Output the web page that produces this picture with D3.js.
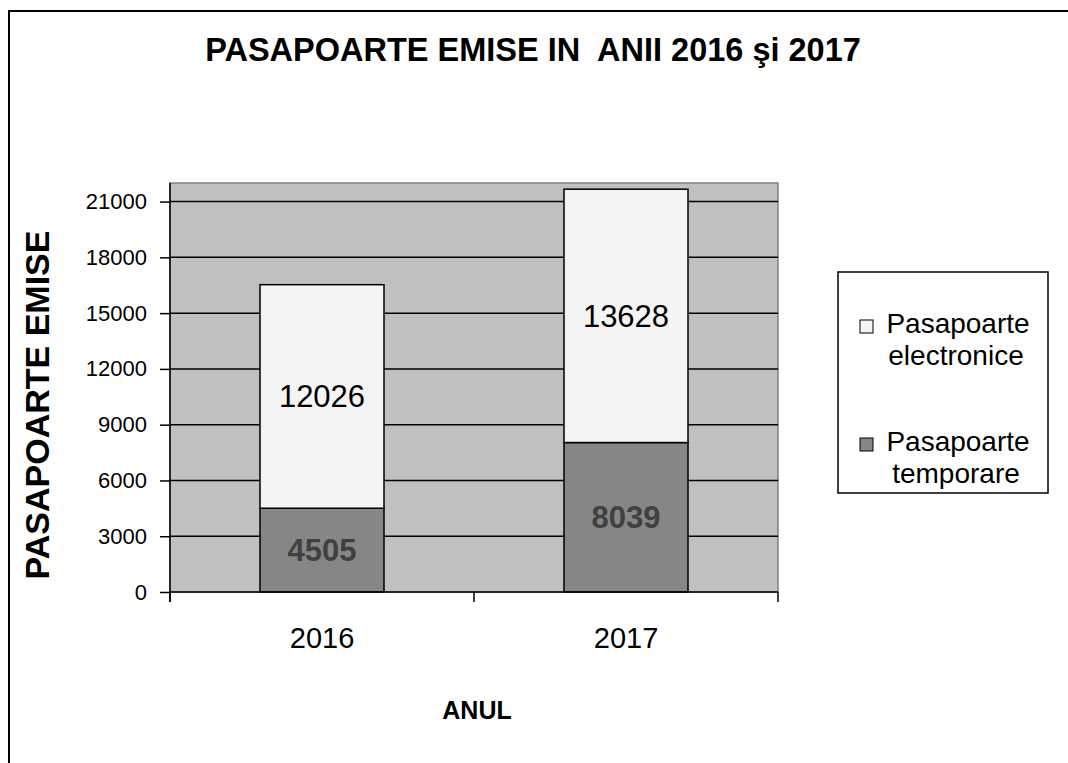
<!DOCTYPE html>
<html>
<head>
<meta charset="utf-8">
<script src="https://cdn.jsdelivr.net/npm/d3@7"></script>
<style>
  body { margin: 0; background: #fff; }
  svg { display: block; font-family: "Liberation Sans", Arial, sans-serif; }
</style>
</head>
<body>
<svg id="chart" width="1068" height="763"></svg>
<script>
const years = ["2016", "2017"];
const temporare = [4505, 8039];
const electronice = [12026, 13628];
const yTicks = [0, 3000, 6000, 9000, 12000, 15000, 18000, 21000];
const seriesNames = ["Pasapoarte electronice", "Pasapoarte temporare"];

const svg = d3.select("#chart");
const FONT = "Liberation Sans, Arial, sans-serif";

// outer chart frame (runs off right and bottom edge)
svg.append("rect")
  .attr("x", 9).attr("y", 11)
  .attr("width", 1100).attr("height", 800)
  .attr("fill", "none").attr("stroke", "#000").attr("stroke-width", 2);

const plot = { left: 170, top: 183, right: 778, bottom: 592 };

const x = d3.scaleBand().domain(years).range([plot.left, plot.right]);
const y = d3.scaleLinear().domain([0, 22000]).range([plot.bottom, plot.top]);
const barW = 124;

// plot background
svg.append("rect")
  .attr("x", plot.left).attr("y", plot.top)
  .attr("width", plot.right - plot.left).attr("height", plot.bottom - plot.top)
  .attr("fill", "#c0c0c0").attr("stroke", "#808080").attr("stroke-width", 1.5);

// gridlines
svg.append("g").selectAll("line")
  .data(yTicks.filter(d => d > 0))
  .join("line")
  .attr("x1", plot.left).attr("x2", plot.right)
  .attr("y1", d => y(d)).attr("y2", d => y(d))
  .attr("stroke", "#000").attr("stroke-width", 1.5);

const data = years.map((yr, i) => ({ year: yr, temp: temporare[i], elec: electronice[i] }));

const bars = svg.append("g");
bars.selectAll("rect.temp")
  .data(data).join("rect").attr("class", "temp")
  .attr("x", d => x(d.year) + x.bandwidth() / 2 - barW / 2)
  .attr("width", barW)
  .attr("y", d => y(d.temp))
  .attr("height", d => y(0) - y(d.temp))
  .attr("fill", "#868686").attr("stroke", "#000").attr("stroke-width", 1.5);

bars.selectAll("rect.elec")
  .data(data).join("rect").attr("class", "elec")
  .attr("x", d => x(d.year) + x.bandwidth() / 2 - barW / 2)
  .attr("width", barW)
  .attr("y", d => y(d.temp + d.elec))
  .attr("height", d => y(d.temp) - y(d.temp + d.elec))
  .attr("fill", "#f4f4f4").attr("stroke", "#000").attr("stroke-width", 1.5);

// value labels
bars.selectAll("text.elec")
  .data(data).join("text").attr("class", "elec")
  .attr("x", d => x(d.year) + x.bandwidth() / 2)
  .attr("y", d => y(d.temp + d.elec / 2))
  .attr("dy", "0.35em")
  .attr("text-anchor", "middle")
  .attr("font-size", 31)
  .attr("fill", "#000")
  .text(d => d.elec);

bars.selectAll("text.temp")
  .data(data).join("text").attr("class", "temp")
  .attr("x", d => x(d.year) + x.bandwidth() / 2)
  .attr("y", d => y(d.temp / 2))
  .attr("dy", "0.35em")
  .attr("text-anchor", "middle")
  .attr("font-size", 31)
  .attr("font-weight", "bold")
  .attr("fill", "#404040")
  .text(d => d.temp);

// y axis
const yAxis = svg.append("g")
  .attr("transform", `translate(${plot.left},0)`)
  .call(d3.axisLeft(y).tickValues(yTicks).tickSize(10).tickPadding(13).tickFormat(d3.format("d")));
yAxis.select(".domain").attr("stroke", "#000").attr("stroke-width", 1.5).attr("d", `M0,${plot.top}V${plot.bottom + 10}`);
yAxis.selectAll(".tick line").attr("stroke", "#000").attr("stroke-width", 1.5);
yAxis.selectAll(".tick text").attr("font-size", 22).attr("fill", "#000").attr("font-family", FONT);

// x axis
const xAxis = svg.append("g")
  .attr("transform", `translate(0,${plot.bottom})`)
  .call(d3.axisBottom(x).tickSize(0).tickPadding(34));
xAxis.select(".domain").attr("stroke", "#000").attr("stroke-width", 1.5).attr("d", `M${plot.left},0H${plot.right}`);
xAxis.selectAll(".tick text").attr("font-size", 29).attr("fill", "#000").attr("font-family", FONT)
  .attr("dy", null).attr("y", 56);
svg.append("g").selectAll("line")
  .data([plot.left, x("2017"), plot.right])
  .join("line")
  .attr("x1", d => d).attr("x2", d => d)
  .attr("y1", plot.bottom).attr("y2", plot.bottom + 10)
  .attr("stroke", "#000").attr("stroke-width", 1.5);

// titles
svg.append("text")
  .attr("x", 533).attr("y", 61)
  .attr("text-anchor", "middle")
  .attr("font-size", 32.5).attr("font-weight", "bold")
  .attr("xml:space", "preserve")
  .text("PASAPOARTE EMISE IN  ANII 2016 şi 2017");

svg.append("text")
  .attr("transform", "translate(49,405) rotate(-90)")
  .attr("text-anchor", "middle")
  .attr("font-size", 34).attr("font-weight", "bold")
  .text("PASAPOARTE EMISE");

svg.append("text")
  .attr("x", 477).attr("y", 719)
  .attr("text-anchor", "middle")
  .attr("font-size", 25).attr("font-weight", "bold")
  .text("ANUL");

// legend
const legend = svg.append("g");
legend.append("rect")
  .attr("x", 838).attr("y", 272)
  .attr("width", 210).attr("height", 221)
  .attr("fill", "#fff").attr("stroke", "#000").attr("stroke-width", 1.5);

const legendFill = ["#f4f4f4", "#868686"];
const legendY = [333, 451];
seriesNames.forEach((name, i) => {
  const words = name.split(" ");
  legend.append("rect")
    .attr("x", 860).attr("y", legendY[i] - 13)
    .attr("width", 13).attr("height", 13)
    .attr("fill", legendFill[i]).attr("stroke", "#000").attr("stroke-width", 1);
  const t = legend.append("text")
    .attr("y", legendY[i])
    .attr("text-anchor", "middle")
    .attr("font-size", 28);
  t.append("tspan").attr("x", 958).text(words[0]);
  t.append("tspan").attr("x", 956).attr("dy", 32).text(words[1]);
});
</script>
</body>
</html>
